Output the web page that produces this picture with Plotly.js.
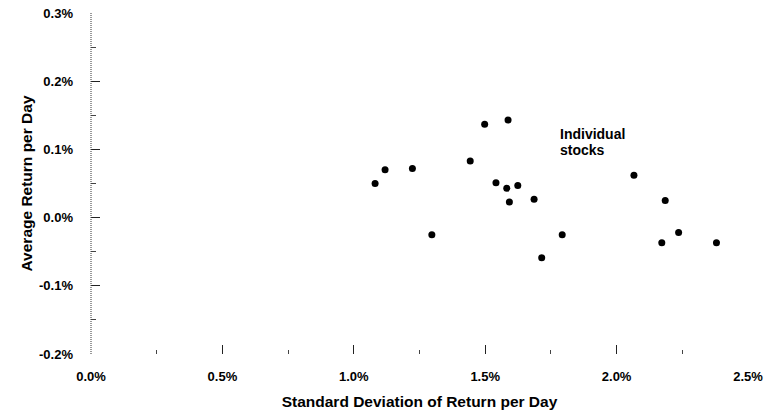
<!DOCTYPE html>
<html>
<head>
<meta charset="utf-8">
<script src="https://cdn.plot.ly/plotly-3.0.1.min.js"></script>
<style>html,body{margin:0;padding:0;background:#fff;}#chart{width:781px;height:414px;}</style>
</head>
<body>
<div id="chart"></div>
<script>
// Standard deviation of return per day (%)
const stdDev = [1.081, 1.119, 1.223, 1.297, 1.443, 1.498, 1.587, 1.541, 1.582, 1.624,
                1.592, 1.686, 1.793, 1.715, 2.066, 2.185, 2.172, 2.236, 2.380];
// Average return per day (%)
const avgReturn = [0.050, 0.070, 0.072, -0.025, 0.083, 0.137, 0.143, 0.051, 0.043, 0.047,
                   0.023, 0.027, -0.025, -0.059, 0.062, 0.025, -0.037, -0.022, -0.037];
// Tick labels
const xTickVals = [0, 0.5, 1.0, 1.5, 2.0, 2.5];
const xTickText = ["0.0%", "0.5%", "1.0%", "1.5%", "2.0%", "2.5%"];
const yTickVals = [-0.2, -0.1, 0.0, 0.1, 0.2, 0.3];
const yTickText = ["-0.2%", "-0.1%", "0.0%", "0.1%", "0.2%", "0.3%"];
// Label text
const labelLines = ["Individual", "stocks"];
const labelX = 1.777;
const labelY = 0.137;

const font = "Liberation Sans, Arial, Helvetica, sans-serif";
const lineStep = 0.0231; // one text line in data units

const trace = {
  type: "scatter",
  mode: "markers",
  x: stdDev,
  y: avgReturn,
  marker: {color: "#000", size: 7},
  hoverinfo: "x+y",
  showlegend: false
};

const layout = {
  width: 781,
  height: 414,
  margin: {l: 91, r: 33, t: 13, b: 60},
  paper_bgcolor: "#fff",
  plot_bgcolor: "#fff",
  font: {family: font, color: "#000"},
  xaxis: {
    range: [0, 2.5],
    tickmode: "array",
    tickvals: xTickVals,
    ticktext: xTickText,
    ticks: "inside",
    ticklen: 9,
    tickwidth: 1,
    tickcolor: "#222",
    minor: {dtick: 0.25, tick0: 0, ticks: "inside", ticklen: 4, tickcolor: "#444", tickwidth: 1},
    showline: false,
    showgrid: false,
    zeroline: false,
    ticklabelstandoff: 13,
    tickfont: {family: font, size: 13, weight: "bold", color: "#000"},
    title: {text: "Standard Deviation of Return per Day", standoff: 13,
            font: {family: font, size: 15.5, weight: "bold", color: "#000"}}
  },
  yaxis: {
    range: [-0.2, 0.3],
    tickmode: "array",
    tickvals: yTickVals,
    ticktext: yTickText,
    ticks: "inside",
    ticklen: 9,
    tickwidth: 1,
    tickcolor: "#222",
    minor: {dtick: 0.05, tick0: 0, ticks: "inside", ticklen: 5, tickcolor: "#444", tickwidth: 1},
    showline: false,
    showgrid: false,
    zeroline: false,
    ticklabelstandoff: 17,
    tickfont: {family: font, size: 13, weight: "bold", color: "#000"},
    title: {text: "Average Return per Day", standoff: 2,
            font: {family: font, size: 15.5, weight: "bold", color: "#000"}}
  },
  shapes: [{
    type: "line", xref: "paper", yref: "paper",
    x0: 0, x1: 0, y0: 0, y1: 1,
    line: {color: "#333", width: 1, dash: "1px,1px"}
  }],
  annotations: labelLines.map((t, i) => ({
    x: labelX, y: labelY - i * lineStep, xref: "x", yref: "y",
    xanchor: "left", yanchor: "top", align: "left",
    text: t, showarrow: false,
    font: {family: font, size: 14, weight: "bold", color: "#000"}
  }))
};

Plotly.newPlot("chart", [trace], layout, {displayModeBar: false, staticPlot: true});
</script>
</body>
</html>
